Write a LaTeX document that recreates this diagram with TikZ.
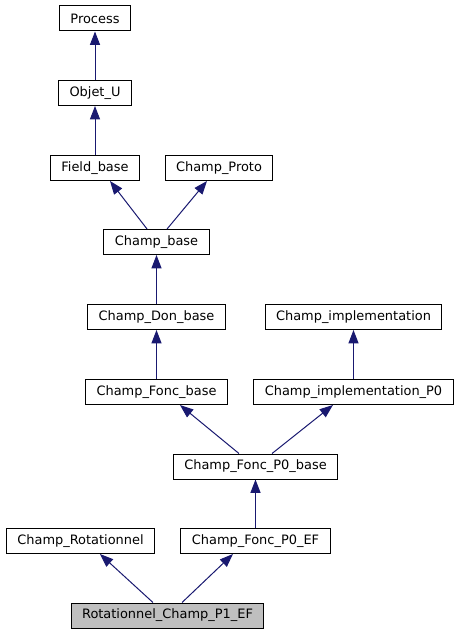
\documentclass[tikz,border=0pt]{standalone}
\usepackage{fontspec}
\setmainfont{DejaVu Sans}
\usetikzlibrary{arrows.meta}

\definecolor{edgeblue}{HTML}{191970}
\definecolor{leafgray}{HTML}{BFBFBF}

\tikzset{
    cls/.style={draw=black, line width=0.75pt, fill=white, inner xsep=8.2pt, inner ysep=0pt,
        minimum height=18.75pt, font=\fontsize{9.7}{11}\selectfont},
    leaf/.style={cls, fill=leafgray},
    inh/.style={draw=edgeblue, line width=0.75pt, -{Triangle[length=10pt, width=7.5pt]}}
}

\begin{document}
\begin{tikzpicture}[x=0.75pt, y=-0.75pt]

            % the frame
            \useasboundingbox (0, 0) rectangle (461, 635);

            % the classes
            \node[cls] (proc) at (95, 18.5) {Process};
            \node[cls] (obj) at (95, 93) {Objet\_U};
            \node[cls] (fld) at (95, 168) {Field\_base};
            \node[cls] (cp) at (219, 168) {Champ\_Proto};
            \node[cls] (cb) at (156.5, 242) {Champ\_base};
            \node[cls] (cdb) at (156.5, 317) {Champ\_Don\_base};
            \node[cls] (ci) at (353.5, 317) {Champ\_implementation};
            \node[cls] (cfb) at (156.5, 392) {Champ\_Fonc\_base};
            \node[cls] (cip) at (353.5, 392) {Champ\_implementation\_P0};
            \node[cls] (cfp) at (255.5, 466.5) {Champ\_Fonc\_P0\_base};
            \node[cls] (crot) at (80.5, 541) {Champ\_Rotationnel};
            \node[cls] (cfe) at (255.5, 541) {Champ\_Fonc\_P0\_EF};
            \node[leaf] (rot) at (167.5, 615.5) {Rotationnel\_Champ\_P1\_EF};

            % straight inheritance
            \foreach \a/\b in {obj/proc, fld/obj, cdb/cb, cfb/cdb, cip/ci, cfe/cfp} {
                \draw[inh] (\a) -- (\b);
            };

            % slanted inheritance
            \draw[inh] ([xshift=-7.1pt]cb.north) -- ([xshift=11.25pt]fld.south);
            \draw[inh] ([xshift=7.9pt]cb.north) -- ([xshift=-9pt]cp.south);
            \draw[inh] ([xshift=-12.4pt]cfp.north) -- ([xshift=17.6pt]cfb.south);
            \draw[inh] ([xshift=12.4pt]cfp.north) -- ([xshift=-15.4pt]cip.south);
            \draw[inh] ([xshift=-10.9pt]rot.north) -- ([xshift=14.6pt]crot.south);
            \draw[inh] ([xshift=10.9pt]rot.north) -- ([xshift=-16.9pt]cfe.south);
        \end{tikzpicture}
\end{document}
